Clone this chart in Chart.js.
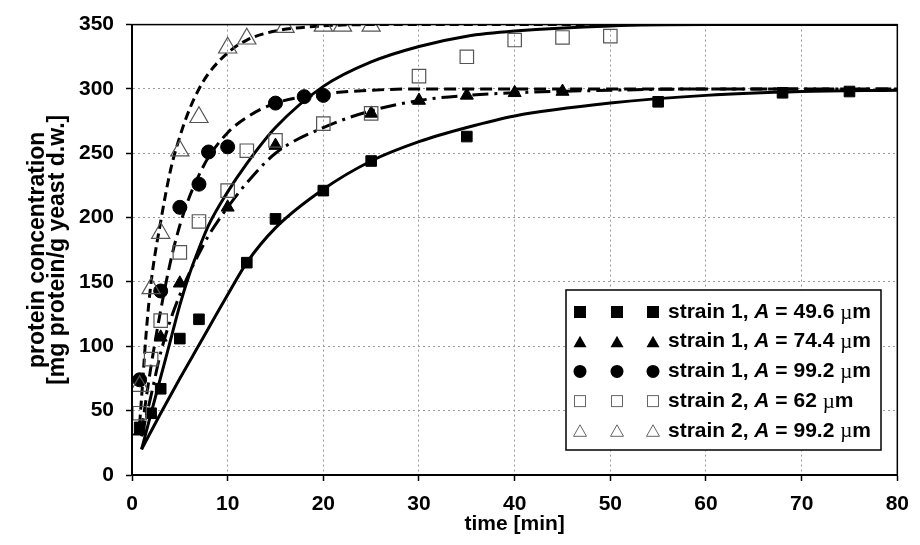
<!DOCTYPE html>
<html>
<head>
<meta charset="utf-8">
<script src="https://cdn.jsdelivr.net/npm/chart.js@4.4.1/dist/chart.umd.min.js"></script>
<style>
  html, body { margin: 0; padding: 0; background: #fff; }
  #wrap { width: 920px; height: 545px; }
</style>
</head>
<body>
<div id="wrap"><canvas id="chart" width="920" height="545"></canvas></div>
<script>
const sq1Time = [0.8, 2, 3, 5, 7, 12, 15, 20, 25, 35, 55, 68, 75];
const sq1Prot = [37, 48, 67, 106, 121, 165, 199, 221, 244, 263, 290, 297, 298];
const tri1Time = [0.8, 3, 5, 10, 15, 25, 30, 35, 40, 45];
const tri1Prot = [34, 107, 149, 208, 256, 281, 291, 295, 297, 298];
const circ1Time = [0.8, 3, 5, 7, 8, 10, 15, 18, 20];
const circ1Prot = [74, 143, 208, 226, 251, 255, 289, 294, 295];
const sq2Time = [0.8, 2, 3, 5, 7, 10, 12, 15, 20, 25, 30, 35, 40, 45, 50];
const sq2Prot = [48, 90, 120, 173, 197, 221, 252, 260, 273, 281, 310, 325, 338, 340, 341];
const tri2Time = [0.8, 2, 3, 5, 7, 10, 12, 16, 20, 22, 25];
const tri2Prot = [69, 145, 188, 252, 278, 332, 339, 348, 349, 349, 349];

// model curves, also
const fitSq1Time = [1, 2, 3, 5, 7, 10, 12, 15, 20, 25, 30, 35, 40, 50, 60, 70, 80];
const fitSq1Prot = [20, 34, 48, 75, 101, 140, 165, 192, 222, 244, 259, 270, 279, 289, 295, 298, 299];
const fitTri1Time = [1, 2, 3, 4, 5, 6, 7, 8, 10, 12, 15, 20, 25, 30, 35, 40, 50, 60, 80];
const fitTri1Prot = [30, 62, 95, 120, 140, 157, 172, 186, 208, 227, 250, 270, 283, 291, 295, 297, 299, 300, 300];
const fitCirc1Time = [1, 2, 3, 4, 5, 6, 7, 8, 10, 12, 15, 20, 25, 30, 80];
const fitCirc1Prot = [35, 85, 128, 165, 194, 216, 233, 247, 266, 278, 289, 296, 299, 300, 300];
const fitSq2Time = [1, 2, 3, 4, 5, 6, 7, 8, 10, 12, 15, 20, 25, 30, 35, 40, 50, 60, 80];
const fitSq2Prot = [20, 48, 76, 104, 132, 156, 176, 194, 220, 242, 270, 302, 321, 333, 341, 345, 349, 350, 350];
const fitTri2Time = [0.8, 1, 1.5, 2, 3, 4, 5, 6, 7, 8, 10, 12, 15, 20, 25, 80];
const fitTri2Prot = [40, 60, 112, 150, 197, 236, 263, 284, 300, 312, 328, 338, 345, 349, 350, 350];

const legendStrain = ['strain 1, ', 'strain 1, ', 'strain 1, ', 'strain 2, ', 'strain 2, '];
const legendSize = [' = 49.6 ', ' = 74.4 ', ' = 99.2 ', ' = 62 ', ' = 99.2 '];

const FONT = '"Liberation Sans", Arial, sans-serif';

function pts(xs, ys) {
  return xs.map((x, i) => ({ x: x, y: ys[i] }));
}

function fitLine(xs, ys, dash) {
  return {
    data: pts(xs, ys),
    showLine: true,
    borderColor: '#000',
    borderWidth: 3,
    borderDash: dash,
    pointRadius: 0,
    cubicInterpolationMode: 'monotone',
    fill: false,
    order: 2
  };
}

function markers(xs, ys, style, r, filled) {
  return {
    data: pts(xs, ys),
    showLine: false,
    pointStyle: style,
    pointRadius: r,
    pointBackgroundColor: filled ? '#000' : 'rgba(255,255,255,0)',
    pointBorderColor: filled ? '#000' : '#555',
    pointBorderWidth: filled ? 1 : 1.2,
    order: 1
  };
}

// marker shapes for the hand-drawn legend
function legendMarker(ctx, kind, x, y) {
  ctx.save();
  ctx.fillStyle = '#000';
  ctx.strokeStyle = '#666';
  ctx.lineWidth = 1;
  if (kind === 'sq') {
    ctx.fillRect(x - 6, y - 6, 12, 12);
  } else if (kind === 'osq') {
    ctx.strokeRect(x - 5.5, y - 5.5, 11, 11);
  } else if (kind === 'circ') {
    ctx.beginPath(); ctx.arc(x, y, 6.5, 0, Math.PI * 2); ctx.fill();
  } else {
    ctx.beginPath();
    ctx.moveTo(x, y - 6); ctx.lineTo(x + 6.5, y + 5.5); ctx.lineTo(x - 6.5, y + 5.5); ctx.closePath();
    if (kind === 'tri') ctx.fill(); else ctx.stroke();
  }
  ctx.restore();
}

const frameAndLegend = {
  id: 'frameAndLegend',
  afterDatasetsDraw(chart) {
    const { ctx, chartArea: a } = chart;
    ctx.save();
    ctx.strokeStyle = '#000';
    ctx.lineWidth = 1.5;
    ctx.strokeRect(a.left, a.top, a.right - a.left, a.bottom - a.top);
    ctx.lineWidth = 2;
    ctx.beginPath();
    ctx.moveTo(a.left, a.top); ctx.lineTo(a.left, a.bottom); ctx.lineTo(a.right, a.bottom);
    ctx.stroke();

    // legend box
    const bx = 566, by = 290, bw = 315, bh = 160;
    ctx.fillStyle = '#fff';
    ctx.fillRect(bx, by, bw, bh);
    ctx.lineWidth = 1.5;
    ctx.strokeStyle = '#000';
    ctx.strokeRect(bx, by, bw, bh);

    const kinds = ['sq', 'tri', 'circ', 'osq', 'otri'];
    ctx.textBaseline = 'middle';
    kinds.forEach((k, i) => {
      const y = 312 + i * 29.7;
      [580, 617, 653].forEach(x => legendMarker(ctx, k, x, y));
      let x = 668;
      ctx.fillStyle = '#000';
      ctx.font = 'bold 21px ' + FONT;
      ctx.fillText(legendStrain[i], x, y);
      x += ctx.measureText(legendStrain[i]).width;
      ctx.font = 'italic bold 21px ' + FONT;
      ctx.fillText('A', x, y);
      x += ctx.measureText('A').width;
      ctx.font = 'bold 21px ' + FONT;
      ctx.fillText(legendSize[i], x, y);
      x += ctx.measureText(legendSize[i]).width;
      ctx.font = '21px "Liberation Serif", serif';
      ctx.fillText('\u00b5', x, y + 1);
      x += ctx.measureText('\u00b5').width;
      ctx.font = 'bold 21px ' + FONT;
      ctx.fillText('m', x, y);
    });
    ctx.restore();
  }
};

const tickFont = { family: FONT, size: 21, weight: 'bold' };

new Chart(document.getElementById('chart'), {
  type: 'scatter',
  data: {
    datasets: [
      fitLine(fitSq1Time, fitSq1Prot, []),
      fitLine(fitTri1Time, fitTri1Prot, [16, 6, 3, 6]),
      fitLine(fitCirc1Time, fitCirc1Prot, [12, 6]),
      fitLine(fitSq2Time, fitSq2Prot, []),
      fitLine(fitTri2Time, fitTri2Prot, [9, 5]),
      markers(sq2Time, sq2Prot, 'rect', 9.5, false),
      markers(tri2Time, tri2Prot, 'triangle', 10.5, false),
      markers(sq1Time, sq1Prot, 'rect', 7.5, true),
      markers(tri1Time, tri1Prot, 'triangle', 7.5, true),
      markers(circ1Time, circ1Prot, 'circle', 7, true)
    ]
  },
  options: {
    responsive: false,
    animation: false,
    layout: { padding: { top: 19, right: 16, left: 0, bottom: 0 } },
    plugins: { legend: { display: false }, tooltip: { enabled: false } },
    scales: {
      x: {
        type: 'linear', min: 0, max: 80,
        ticks: { stepSize: 10, color: '#000', font: tickFont, padding: 11, maxRotation: 0 },
        grid: { color: '#9a9a9a', lineWidth: 1, tickLength: 6, tickColor: '#000', tickWidth: 1.5 },
        border: { display: true, color: '#000', width: 2, dash: [2, 3] },
        title: { display: true, text: 'time [min]', color: '#000', font: { family: FONT, size: 21, weight: 'bold' }, padding: { top: 0, bottom: 8 } },
        afterFit(s) { s.height = 70; }
      },
      y: {
        type: 'linear', min: 0, max: 350,
        ticks: { stepSize: 50, color: '#000', font: tickFont, padding: 12 },
        grid: { color: '#9a9a9a', lineWidth: 1, tickLength: 6, tickColor: '#000', tickWidth: 1.5 },
        border: { display: true, color: '#000', width: 2, dash: [2, 3] },
        title: {
          display: true,
          text: ['protein concentration', '[mg protein/g yeast d.w.]'],
          color: '#000',
          font: { family: FONT, size: 23, weight: 'bold', lineHeight: 0.9 },
          padding: { top: 27, bottom: 0 }
        },
        afterFit(s) { s.width = 132; }
      }
    }
  },
  plugins: [frameAndLegend]
});
</script>
</body>
</html>
